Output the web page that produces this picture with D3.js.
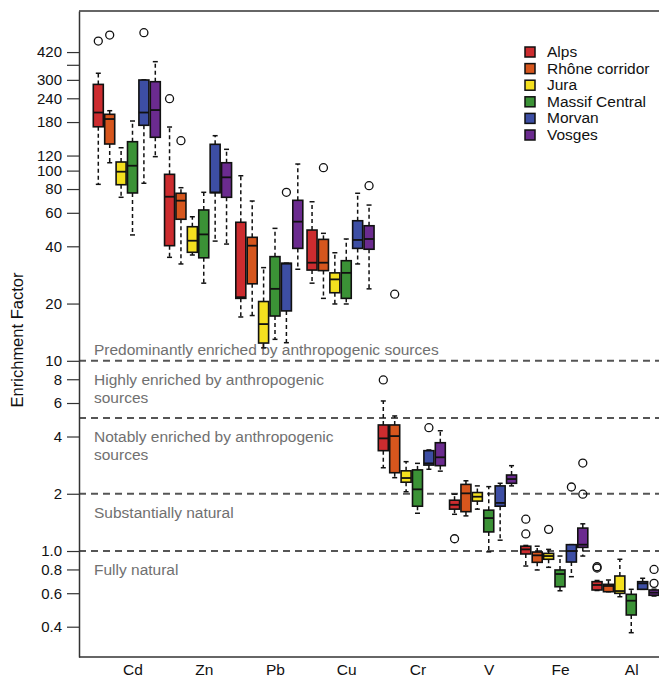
<!DOCTYPE html>
<html>
<head>
<meta charset="utf-8">
<script src="https://cdn.jsdelivr.net/npm/d3@7"></script>
<style>
  html, body { margin: 0; padding: 0; background: #fff; }
  svg { display: block; font-family: "Liberation Sans", Arial, sans-serif; }
</style>
</head>
<body>
<svg id="chart" width="659" height="678"></svg>
<script>
// ---------------- DATA ----------------
const categories = ["Cd", "Zn", "Pb", "Cu", "Cr", "V", "Fe", "Al"];
const regions = ["Alps", "Rhône corridor", "Jura", "Massif Central", "Morvan", "Vosges"];
const regionColors = ["#cc2c2f", "#d6561d", "#f4e01f", "#3b9236", "#3d4ea4", "#6b2b8f"];

// each entry: [lower whisker, Q1, median, Q3, upper whisker] per element (Cd..Al)
const alps = [
  [84.7, 170, 202, 284, 325],
  [35, 40.3, 72.9, 95.6, 169.5],
  [17, 21.3, 21.6, 53.5, 94],
  [25.6, 30, 32.8, 48.7, 68.6],
  [2.74, 3.37, 3.91, 4.6, 6.15],
  [1.56, 1.66, 1.75, 1.85, 1.99],
  [0.834, 0.965, 1.02, 1.06, 1.07],
  [0.62, 0.624, 0.663, 0.69, 0.70]
];
const rhone = [
  [110, 138, 186.7, 197.7, 206.5],
  [32.3, 55.5, 69.5, 76, 81.3],
  [17.3, 25.4, 40.3, 44.6, 69.2],
  [21.3, 29.8, 32.8, 43.5, 46.8],
  [2.43, 2.58, 4.02, 4.6, 5.13],
  [1.53, 1.61, 2.01, 2.24, 2.34],
  [0.795, 0.872, 0.949, 0.988, 1.06],
  [0.611, 0.611, 0.655, 0.668, 0.704]
];
const jura = [
  [72.4, 84.3, 98.7, 111, 131.9],
  [36, 37.2, 42.8, 50.7, 57.2],
  [11.7, 12.4, 15.6, 20.5, 30.9],
  [19.9, 22.8, 26.8, 29, 37],
  [2.05, 2.30, 2.42, 2.64, 2.95],
  [1.66, 1.83, 1.93, 2.03, 2.2],
  [0.821, 0.905, 0.941, 0.972, 1.02],
  [0.575, 0.599, 0.616, 0.739, 0.905]
];
const massifCentral = [
  [45.9, 76.3, 106.1, 141.9, 182.3],
  [25.6, 34.8, 46.2, 62.1, 76.9],
  [12.97, 17.2, 23.9, 35.3, 49.7],
  [19.9, 21.3, 29, 33.6, 43.7],
  [1.58, 1.72, 2.11, 2.67, 2.89],
  [0.99, 1.26, 1.49, 1.64, 2.18],
  [0.618, 0.649, 0.757, 0.795, 0.941],
  [0.372, 0.461, 0.548, 0.592, 0.629]
];
const morvan = [
  [85.8, 173.1, 202, 299.5, 300],
  [42.6, 76.5, 76.8, 137.5, 152.6],
  [12.45, 18.3, 32.4, 32.6, 32.6],
  [32.3, 39, 43.2, 54.5, 76],
  [2.69, 2.83, 2.89, 3.37, 3.4],
  [1.14, 1.72, 1.79, 2.2, 2.27],
  [0.733, 0.875, 1.0, 1.08, 1.08],
  [0.629, 0.629, 0.676, 0.69, 0.719]
];
const vosges = [
  [118.4, 149.7, 208.2, 293.4, 373.9],
  [41.1, 72.4, 92.2, 110, 129.4],
  [30.3, 39, 53.9, 69.8, 108.3],
  [23.9, 38.6, 43.7, 51.3, 65.9],
  [2.63, 2.81, 3.11, 3.71, 4.29],
  [2.2, 2.27, 2.39, 2.51, 2.81],
  [0.941, 1.045, 1.08, 1.32, 1.39],
  [0.58, 0.585, 0.604, 0.624, 0.63]
];
const seriesStats = [alps, rhone, jura, massifCentral, morvan, vosges];

// outliers per region: element -> values
const alpsOutliers = { Cd: [480], Zn: [238.8], Cr: [7.93], V: [1.16], Fe: [1.47, 1.23], Al: [0.827, 0.814] };
const rhoneOutliers = { Cd: [516], Zn: [143.6], Cu: [103.6], Cr: [22.4] };
const juraOutliers = { Fe: [1.30] };
const massifCentralOutliers = {};
const morvanOutliers = { Cd: [531], Pb: [76.9], Cr: [4.45], Fe: [2.17] };
const vosgesOutliers = { Cu: [83.3], Fe: [2.90, 1.99], Al: [0.80, 0.676] };
const seriesOutliers = [alpsOutliers, rhoneOutliers, juraOutliers, massifCentralOutliers, morvanOutliers, vosgesOutliers];

const yTicks = [0.4, 0.6, 0.8, 1, 2, 4, 6, 8, 10, 20, 40, 60, 80, 100, 120, 180, 240, 300, 360, 420];
const yTickLabels = ["0.4", "0.6", "0.8", "1.0", "2", "4", "6", "8", "10", "20", "40", "60", "80", "100", "120", "180", "240", "300", "", "420"];

const thresholds = [10, 5, 2, 1];
const zoneLabels = [
  { top: 10, lines: ["Predominantly enriched by anthropogenic sources"], above: true },
  { top: 10, lines: ["Highly enriched by anthropogenic", "sources"] },
  { top: 5, lines: ["Notably enriched by anthropogenic", "sources"] },
  { top: 2, lines: ["Substantially natural"] },
  { top: 1, lines: ["Fully natural"] }
];
const yLabel = "Enrichment Factor";

// ---------------- LAYOUT ----------------
const W = 659, H = 678;
const plotLeft = 79, plotTop = 11, plotBottom = 657, plotRight = 700;
const boxW = 10, capW = 5;
const groupStep = 6.25; // in box units
const fontMain = 15.5;

const svg = d3.select("#chart");

const y = d3.scaleLog().domain([0.2772, 690.5]).range([plotBottom, plotTop]);
const x = d3.scaleLinear().domain([0, 48.75]).range([98.3, 654.05]);

const boxPos = (g, k) => x(g * groupStep + k);

// threshold dashed lines
svg.append("g").selectAll("line").data(thresholds).join("line")
  .attr("x1", plotLeft).attr("x2", plotRight)
  .attr("y1", d => y(d)).attr("y2", d => y(d))
  .attr("stroke", "#555").attr("stroke-width", 2)
  .attr("stroke-dasharray", "7,5");

// zone labels
const zg = svg.append("g").attr("fill", "#707070").attr("font-size", fontMain);
zoneLabels.forEach(z => {
  z.lines.forEach((ln, i) => {
    const base = z.above ? y(z.top) - 6 : y(z.top) + 24 + i * 18;
    zg.append("text").attr("x", 94).attr("y", base).text(ln);
  });
});

// frame lines (top, bottom)
svg.append("line").attr("x1", plotLeft).attr("x2", plotRight).attr("y1", plotTop).attr("y2", plotTop)
  .attr("stroke", "#333").attr("stroke-width", 1.5);
svg.append("line").attr("x1", plotLeft).attr("x2", plotRight).attr("y1", plotBottom).attr("y2", plotBottom)
  .attr("stroke", "#333").attr("stroke-width", 1.5);

// y axis
const yAxis = d3.axisLeft(y).tickValues(yTicks)
  .tickFormat((d, i) => yTickLabels[i]).tickSize(12).tickSizeOuter(0).tickPadding(5);
const ya = svg.append("g").attr("transform", `translate(${plotLeft},0)`).call(yAxis);
ya.select(".domain").attr("stroke", "#333").attr("stroke-width", 1.5);
ya.selectAll(".tick line").attr("stroke", "#333").attr("stroke-width", 1.2);
ya.selectAll(".tick text").attr("font-size", 15).attr("fill", "#111")
  .attr("font-family", '"Liberation Sans", Arial, sans-serif');

// x axis labels
const xAxis = d3.axisBottom(x).tickValues(categories.map((c, i) => i * groupStep + 3))
  .tickFormat((d, i) => categories[i]).tickSize(0).tickPadding(7);
const xa = svg.append("g").attr("transform", `translate(0,${plotBottom})`).call(xAxis);
xa.select(".domain").remove();
xa.selectAll(".tick text").attr("font-size", fontMain).attr("fill", "#111")
  .attr("font-family", '"Liberation Sans", Arial, sans-serif');

// y label
svg.append("text")
  .attr("transform", `translate(23,340) rotate(-90)`)
  .attr("text-anchor", "middle")
  .attr("font-size", 16.5).attr("fill", "#111")
  .text(yLabel);

// boxes
const bg = svg.append("g");
seriesStats.forEach((stats, k) => {
  stats.forEach((s, g) => {
    const [lo, q1, med, q3, hi] = s;
    const cx = boxPos(g, k);
    const grp = bg.append("g");
    grp.append("line").attr("x1", cx).attr("x2", cx).attr("y1", y(q3)).attr("y2", y(hi))
      .attr("stroke", "#111").attr("stroke-width", 1.5).attr("stroke-dasharray", "4,3");
    grp.append("line").attr("x1", cx).attr("x2", cx).attr("y1", y(q1)).attr("y2", y(lo))
      .attr("stroke", "#111").attr("stroke-width", 1.5).attr("stroke-dasharray", "4,3");
    [lo, hi].forEach(v => {
      grp.append("line").attr("x1", cx - capW / 2).attr("x2", cx + capW / 2)
        .attr("y1", y(v)).attr("y2", y(v)).attr("stroke", "#111").attr("stroke-width", 1.5);
    });
    grp.append("rect").attr("x", cx - boxW / 2).attr("width", boxW)
      .attr("y", y(q3)).attr("height", Math.max(0.5, y(q1) - y(q3)))
      .attr("fill", regionColors[k]).attr("stroke", "#111").attr("stroke-width", 1.6);
    grp.append("line").attr("x1", cx - boxW / 2).attr("x2", cx + boxW / 2)
      .attr("y1", y(med)).attr("y2", y(med)).attr("stroke", "#111").attr("stroke-width", 1.8);
  });
});

// outliers
const og = svg.append("g");
seriesOutliers.forEach((outs, k) => {
  Object.keys(outs).forEach(el => {
    const g = categories.indexOf(el);
    outs[el].forEach(v => {
      og.append("circle").attr("cx", boxPos(g, k)).attr("cy", y(v)).attr("r", 4)
        .attr("fill", "none").attr("stroke", "#111").attr("stroke-width", 1.3);
    });
  });
});

// legend
const lg = svg.append("g").attr("transform", "translate(525,47)");
regions.forEach((r, i) => {
  const row = lg.append("g").attr("transform", `translate(0,${i * 16.6})`);
  row.append("rect").attr("x", 0).attr("y", 0).attr("width", 10).attr("height", 10)
    .attr("fill", regionColors[i]).attr("stroke", "#111").attr("stroke-width", 1.5);
  row.append("text").attr("x", 22).attr("y", 10).attr("font-size", fontMain)
    .attr("fill", "#111").text(r);
});
</script>
</body>
</html>
